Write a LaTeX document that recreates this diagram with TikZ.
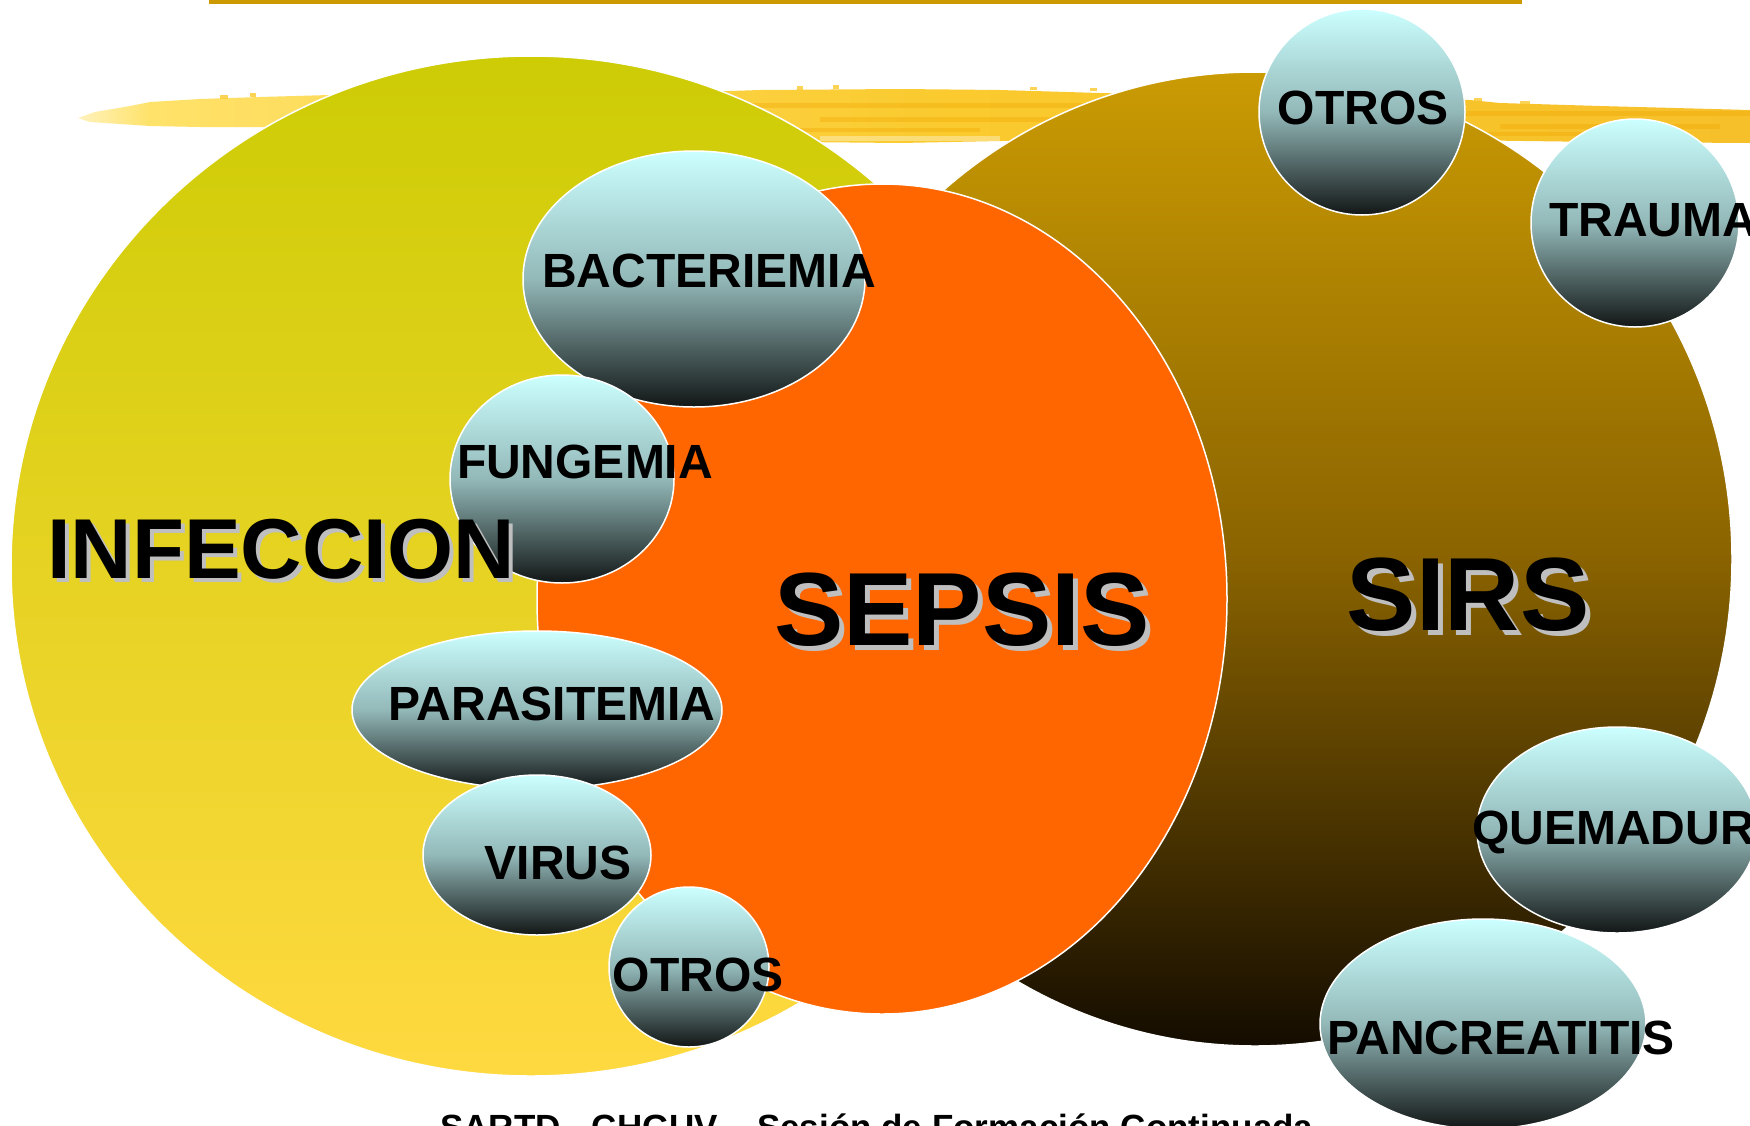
\documentclass[tikz,border=0pt]{standalone}
\usepackage{fontspec}
\setmainfont{Liberation Sans}
\usetikzlibrary{shapes.geometric}
\definecolor{topline}{HTML}{CC9900}
\definecolor{infTop}{HTML}{CDCC05}
\definecolor{infBot}{HTML}{FFD940}
\definecolor{sirsTop}{HTML}{CA9B03}
\definecolor{sirsMid}{HTML}{8A6300}
\definecolor{sirsBot}{HTML}{140C00}
\definecolor{sepsis}{HTML}{FF6600}
\definecolor{bubTop}{HTML}{CCFFFF}
\definecolor{bubMid}{HTML}{93B8B8}
\definecolor{bubBot}{HTML}{121616}
\definecolor{brushL}{HTML}{FFE26A}
\definecolor{brushM}{HTML}{FACA2E}
\definecolor{brushR}{HTML}{F6C02A}
\definecolor{brushO}{HTML}{F0A500}
\definecolor{shadowgray}{HTML}{BFBFBF}
\tikzset{
  disk/.style={ellipse, draw=white, line width=1.5pt, inner sep=0pt, outer sep=0pt},
  bubble/.style={disk, top color=bubTop, bottom color=bubBot, middle color=bubMid},
  blabel/.style={font=\fontsize{48}{48}\selectfont\bfseries, text=black, inner sep=0pt},
  bigshadow/.style={font=\fontsize{#1}{#1}\selectfont\bfseries, text=shadowgray, inner sep=0pt},
  bigtext/.style={font=\fontsize{#1}{#1}\selectfont\bfseries, text=black, inner sep=0pt},
  streak/.style={fill=brushO, opacity=0.35},
  speck/.style={fill=brushM, opacity=0.8}
}
\begin{document}
\begin{tikzpicture}[x=1pt,y=-1pt]
\useasboundingbox (0,0) rectangle (1750,1125);
\clip (0,0) rectangle (1750,1125);
\fill[white] (0,0) rectangle (1750,1125);
% top rule
\fill[topline] (209,0) rectangle (1522,4);
% brush stroke
\shade[left color=brushL, right color=brushR, middle color=brushM]
  (150,102) -- (200,99) -- (260,97) -- (330,95)
  -- (420,93) -- (700,92) -- (760,90) -- (900,89) -- (1000,90) -- (1100,93)
  -- (1300,98) -- (1470,100) -- (1500,103) -- (1600,106) -- (1750,110)
  -- (1750,143) -- (1600,142) -- (1450,140) -- (1300,140) -- (1000,141)
  -- (900,143) -- (800,142) -- (700,140) -- (600,134) -- (500,130) -- (400,128)
  -- (300,127) -- (200,127) -- (150,126) -- cycle;
\shade[left color=white!55!brushL, right color=brushL]
  (78,118) -- (95,112) -- (130,106) -- (150,102) -- (150,126) -- (120,124) -- (90,122) -- cycle;
\fill[streak] (700,103) rectangle (1100,108);
\fill[streak] (820,117) rectangle (1060,122);
\fill[streak] (760,128) rectangle (980,132);
\fill[streak] (1450,111) rectangle (1750,116);
\fill[streak] (1500,124) rectangle (1720,129);
\fill[streak] (1400,132) rectangle (1620,136);
\fill[white, opacity=0.35] (820,136) rectangle (1000,141);
\fill[speck] (797,86) rectangle (803,90);
\fill[speck] (833,85) rectangle (839,89);
\fill[speck] (1030,87) rectangle (1037,90);
\fill[speck] (1090,88) rectangle (1097,91);
\fill[speck] (1474,98) rectangle (1482,101);
\fill[speck] (1520,101) rectangle (1530,104);
\fill[speck] (220,95) rectangle (228,99);
\fill[speck] (250,93) rectangle (256,97);
% large disks
\node[disk, top color=infTop, bottom color=infBot, minimum width=1040pt, minimum height=1020pt] (infdisk) at (531,566) {};
\node[disk, top color=sirsTop, bottom color=sirsBot, middle color=sirsMid, minimum width=954pt, minimum height=974pt] (sirsdisk) at (1255,559) {};
\node[disk, fill=sepsis, minimum width=690pt, minimum height=830pt] (sepdisk) at (882,599) {};
% bubbles
\node[bubble, minimum width=342pt, minimum height=256pt] (bact) at (694,279) {};
\node[bubble, minimum width=224pt, minimum height=208pt] (fung) at (562,479) {};
\node[bubble, minimum width=370pt, minimum height=158pt] (para) at (537,710) {};
\node[bubble, minimum width=228pt, minimum height=160pt] (virus) at (537,855) {};
\node[bubble, minimum width=160pt, minimum height=160pt] (otrosL) at (689,967) {};
\node[bubble, minimum width=206pt, minimum height=206pt] (otrosR) at (1362,112) {};
\node[bubble, minimum width=208pt, minimum height=208pt] (trauma) at (1635,223) {};
\node[bubble, minimum width=280pt, minimum height=206pt] (quem) at (1617,830) {};
\node[bubble, minimum width=326pt, minimum height=210pt] (panc) at (1483,1024) {};
% bubble labels
\node[blabel] (tbact) at (709,271) {BACTERIEMIA};
\node[blabel] (tfung) at (585,462) {FUNGEMIA};
\node[blabel] (tpara) at (552,704) {PARASITEMIA};
\node[blabel] (tvirus) at (558,863) {VIRUS};
\node[blabel] (totrosL) at (698,975) {OTROS};
\node[blabel] (totrosR) at (1363,108) {OTROS};
\node[blabel, anchor=west] (ttrauma) at (1549,220) {TRAUMA};
\node[blabel, anchor=west] (tquem) at (1472,832) {QUEMADURA};
\node[blabel, anchor=west] (tpanc) at (1327,1038) {PANCREATITIS};
% big labels with shadow
\node[bigshadow=85] (infsh) at (285,553) {INFECCION};
\node[bigtext=85] (inf) at (281,549) {INFECCION};
\node[bigshadow=104] (sepsh) at (967,615) {SEPSIS};
\node[bigtext=104] (sep) at (962,610) {SEPSIS};
\node[bigshadow=104] (sirssh) at (1473,600) {SIRS};
\node[bigtext=104] (sirs) at (1468,595) {SIRS};
% footer
\node[anchor=base west, inner sep=0pt, font=\fontsize{35}{35}\selectfont\bfseries] (footer) at (440,1139) {SARTD - CHGUV .\ \ Sesión de Formación Continuada};
\end{tikzpicture}
\end{document}
